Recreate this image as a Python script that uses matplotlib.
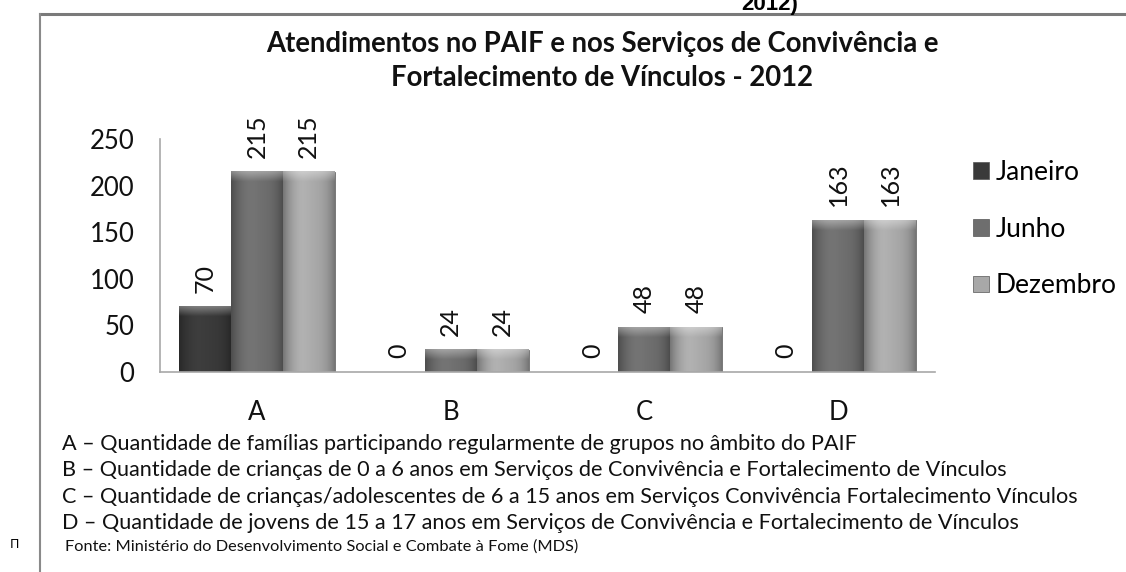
import numpy as np
import matplotlib.pyplot as plt
from matplotlib.colors import to_rgb
from matplotlib.lines import Line2D

# dados do gráfico
categorias = ['A', 'B', 'C', 'D']
janeiro = [70, 0, 0, 0]
junho = [215, 24, 48, 163]
dezembro = [215, 24, 48, 163]
meses = ['Janeiro', 'Junho', 'Dezembro']
cores = ['#3a3a3a', '#6e6e6e', '#a8a8a8']
yticks = [0, 50, 100, 150, 200, 250]

titulo = ('Atendimentos no PAIF e nos Serviços de Convivência e\n'
          'Fortalecimento de Vínculos - 2012')
notas = [
    'A – Quantidade de famílias participando regularmente de grupos no âmbito do PAIF',
    'B – Quantidade de crianças de 0 a 6 anos em Serviços de Convivência e Fortalecimento de Vínculos',
    'C – Quantidade de crianças/adolescentes de 6 a 15 anos em Serviços Convivência Fortalecimento Vínculos',
    'D – Quantidade de jovens de 15 a 17 anos em Serviços de Convivência e Fortalecimento de Vínculos',
]
fonte = 'Fonte: Ministério do Desenvolvimento Social e Combate à Fome (MDS)'

plt.rcParams['font.family'] = ['Lato', 'DejaVu Sans']

W, H = 1126, 572
fig = plt.figure(figsize=(W / 100, H / 100), dpi=100)
ax = fig.add_axes([160 / W, 200 / H, 775 / W, 233 / H])
ax.set_xlim(-0.5, 3.5)
ax.set_ylim(0, 250)


def sombrear(ax, barra, cor):
    # efeito de bisel parecido com o do Excel
    x0, y0 = barra.get_x(), barra.get_y()
    wd, h = barra.get_width(), barra.get_height()
    if h <= 0:
        return
    esc = ax.transData.transform((0, 1))[1] - ax.transData.transform((0, 0))[1]
    u = np.linspace(0, 1, 80)
    perfil = 1 - 0.30 * np.abs(2 * u - 1) ** 3
    perfil = perfil * (1 + 0.06 * np.exp(-((u - 0.35) / 0.2) ** 2))
    yy = np.linspace(0, h * esc, 300)
    topo = np.clip(1 - (h * esc - yy) / 10, 0, 1)
    base = np.array(to_rgb(cor))
    img = np.clip(base[None, None, :] * perfil[None, :, None], 0, 1)
    img = np.repeat(img, len(yy), axis=0)
    img = img + (1 - img) * 0.35 * topo[:, None, None]
    ax.imshow(img, extent=(x0, x0 + wd, y0, y0 + h), origin='lower',
              aspect='auto', interpolation='bilinear', zorder=2)


x = np.arange(len(categorias))
w = 0.268
for i, (vals, cor, nome) in enumerate(zip([janeiro, junho, dezembro], cores, meses)):
    barras = ax.bar(x + (i - 1) * w, vals, w, color=cor, label=nome,
                    edgecolor='#555555', linewidth=0.5, zorder=1)
    for b, v in zip(barras, vals):
        sombrear(ax, b, cor)
        ax.annotate(str(v), (b.get_x() + b.get_width() / 2, v),
                    xytext=(0, 10), textcoords='offset points', rotation=90,
                    ha='center', va='bottom', fontsize=18, color='#111111')

ax.set_xlim(-0.5, 3.5)
ax.set_ylim(0, 250)
ax.set_xticks(x)
ax.set_xticklabels(categorias)
ax.set_yticks(yticks)
ax.tick_params(length=0, labelsize=18.5, colors='#111111')
ax.tick_params(axis='x', pad=20)
ax.tick_params(axis='y', pad=18.5)
for s in ['top', 'right']:
    ax.spines[s].set_visible(False)
for s in ['left', 'bottom']:
    ax.spines[s].set_color('#a8a8a8')
    ax.spines[s].set_linewidth(1.2)

ax.legend(loc='upper left', bbox_to_anchor=(973 / W, 1 - 160 / H),
          bbox_transform=fig.transFigure, frameon=False, fontsize=19,
          handlelength=0.6, handleheight=0.6, handletextpad=0.25,
          labelspacing=1.2, borderpad=0, borderaxespad=0)

fig.text(602 / W, 1 - 31 / H, titulo, ha='center', va='top', fontsize=19.8,
         fontweight='bold', linespacing=1.4, color='#111111')

for k, nota in enumerate(notas):
    fig.text(62 / W, 1 - (444 + 26.3 * k) / H, nota, ha='left', va='center',
             fontsize=15.6, color='#111111')
fig.text(65 / W, 1 - 547 / H, fonte, ha='left', va='center', fontsize=11.8,
         color='#111111')

# moldura da imagem original
fig.add_artist(Line2D([40 / W, 1], [1 - 14 / H, 1 - 14 / H], color='#7a7a7a', lw=2.2))
fig.add_artist(Line2D([40 / W, 40 / W], [1 - 14 / H, 0], color='#8a8a8a', lw=1.5))
fig.text(770 / W, 1 - 10 / H, '2012)', ha='center', va='baseline',
         fontsize=16, fontweight='bold', family='Liberation Sans')
fig.text(14 / W, 1 - 545 / H, 'П', ha='center', va='center', fontsize=9,
         family='DejaVu Sans')

fig.savefig('out.png', dpi=100)
